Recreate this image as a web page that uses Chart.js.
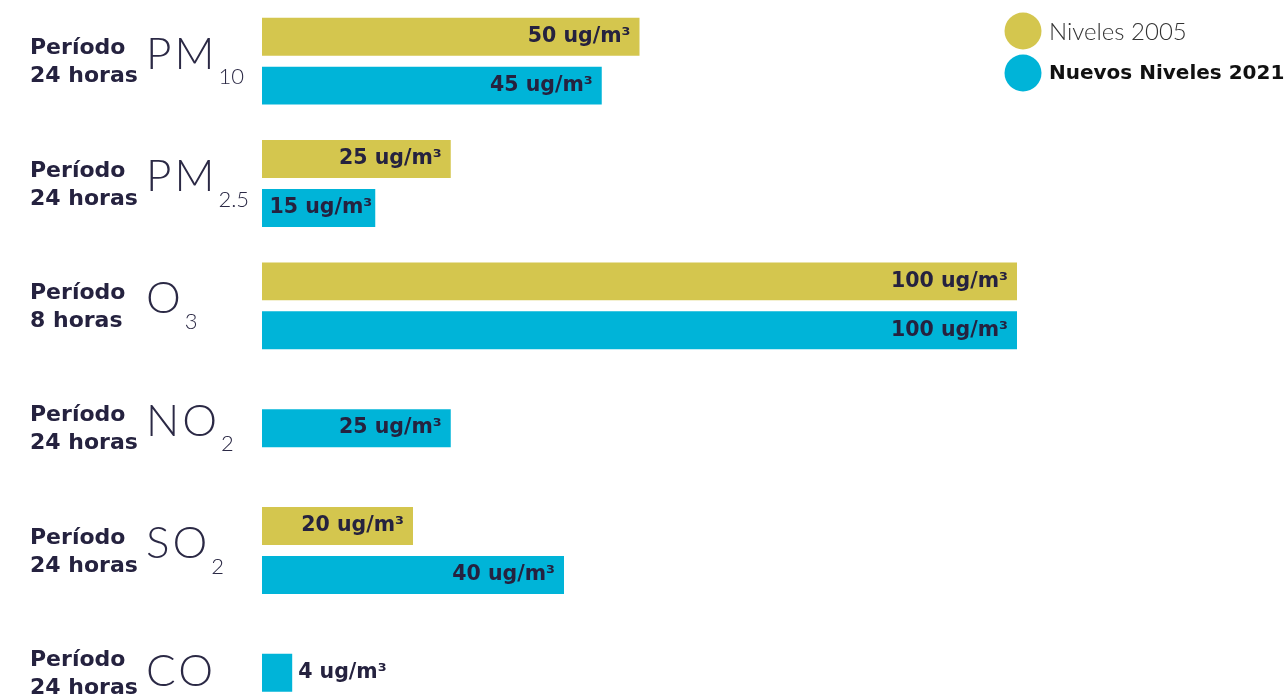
<!DOCTYPE html>
<html><head><meta charset="utf-8">
<script src="https://cdn.jsdelivr.net/npm/chart.js@4"></script>
<style>html,body{margin:0;padding:0;background:#fff;overflow:hidden}
#wrap{position:absolute;left:0;top:0;width:1288px;height:734px}</style>
</head><body><div id="wrap"><canvas id="c" width="1288" height="734"></canvas></div>
<script>
// ---- data ----
const categories = ['PM10', 'PM2.5', 'O3', 'NO2', 'SO2', 'CO'];
const formulaMain = ['PM', 'PM', 'O', 'NO', 'SO', 'CO'];
const formulaSub = ['10', '2.5', '3', '2', '2', ''];
const periodLine1 = ['Período', 'Período', 'Período', 'Período', 'Período', 'Período'];
const periodLine2 = ['24 horas', '24 horas', '8 horas', '24 horas', '24 horas', '24 horas'];
const seriesNames = ['Niveles 2005', 'Nuevos Niveles 2021'];
const values2005 = [50, 25, 100, null, 20, null];
const values2021 = [45, 15, 100, 25, 40, 4];
const unit = 'ug/m³';

// ---- style ----
const colors = ['#D4C64E', '#00B4D8'];
const navy = '#25223F';
const formulaShift = {CO: 6};

const labelPlugin = {
  id: 'valueLabels',
  afterDatasetsDraw(chart) {
    const ctx = chart.ctx;
    ctx.save();
    ctx.font = 'bold 20.5px "DejaVu Sans", sans-serif';
    ctx.fillStyle = navy;
    ctx.textBaseline = 'middle';
    chart.data.datasets.forEach((ds, di) => {
      const meta = chart.getDatasetMeta(di);
      meta.data.forEach((bar, i) => {
        const v = ds.data[i];
        if (v === null || v === undefined) return;
        const txt = v + ' ' + unit;
        const w = ctx.measureText(txt).width;
        const barW = bar.x - bar.base;
        if (w > barW) {
          ctx.textAlign = 'left';
          ctx.fillText(txt, bar.x + 6, bar.y);
        } else {
          ctx.textAlign = 'right';
          let right = bar.x - 9;
          if (right - w < bar.base + 8) right = bar.x - 3;
          ctx.fillText(txt, right, bar.y);
        }
      });
    });
    ctx.restore();
  }
};

const axisLabelPlugin = {
  id: 'axisLabels',
  afterDraw(chart) {
    const ctx = chart.ctx;
    const ys = chart.scales.y;
    ctx.save();
    ctx.textAlign = 'left';
    ctx.textBaseline = 'alphabetic';
    categories.forEach((cat, i) => {
      const y = ys.getPixelForValue(i);
      ctx.fillStyle = navy;
      ctx.font = 'bold 22px "DejaVu Sans", sans-serif';
      ctx.fillText(periodLine1[i], 30, y - 7);
      ctx.fillText(periodLine2[i], 30, y + 21);
      ctx.fillStyle = '#2b2945';
      ctx.font = '300 44px Lato, "Open Sans", sans-serif';
      ctx.letterSpacing = '3px';
      const shift = formulaShift[cat] || 0;
      ctx.fillText(formulaMain[i], 146, y + 7.5 + shift);
      const mw = ctx.measureText(formulaMain[i]).width;
      ctx.letterSpacing = '0px';
      if (formulaSub[i]) {
        ctx.font = '300 22px Lato, "Open Sans", sans-serif';
        ctx.fillText(formulaSub[i], 146 + mw + 1, y + 23);
      }
    });
    ctx.restore();
  }
};

const legendPlugin = {
  id: 'customLegend',
  afterDraw(chart) {
    const ctx = chart.ctx;
    ctx.save();
    const rows = [31, 73];
    chart.data.datasets.forEach((ds, di) => {
      ctx.beginPath();
      ctx.fillStyle = colors[di];
      ctx.arc(1023, rows[di], 18.5, 0, Math.PI * 2);
      ctx.fill();
      ctx.textAlign = 'left';
      ctx.textBaseline = 'middle';
      if (di === 0) {
        ctx.font = '300 24px Lato, "Open Sans", sans-serif';
        ctx.fillStyle = '#333333';
      } else {
        ctx.font = 'bold 20px "DejaVu Sans", sans-serif';
        ctx.fillStyle = '#111111';
      }
      ctx.fillText(ds.label, 1049, rows[di] + 1);
    });
    ctx.restore();
  }
};

new Chart(document.getElementById('c'), {
  type: 'bar',
  data: {
    labels: categories,
    datasets: [
      {label: seriesNames[0], data: values2005, backgroundColor: colors[0], skipNull: true},
      {label: seriesNames[1], data: values2021, backgroundColor: colors[1], skipNull: true}
    ]
  },
  options: {
    indexAxis: 'y',
    responsive: false,
    animation: false,
    devicePixelRatio: 1,
    datasets: {bar: {categoryPercentage: 0.8, barPercentage: 38 / 49, maxBarThickness: 38, skipNull: true}},
    layout: {padding: {left: 262, right: 271, top: 0, bottom: 0}},
    scales: {
      x: {display: false, min: 0, max: 100},
      y: {display: false}
    },
    plugins: {legend: {display: false}, tooltip: {enabled: false}}
  },
  plugins: [labelPlugin, axisLabelPlugin, legendPlugin]
});
</script>
</body></html>
